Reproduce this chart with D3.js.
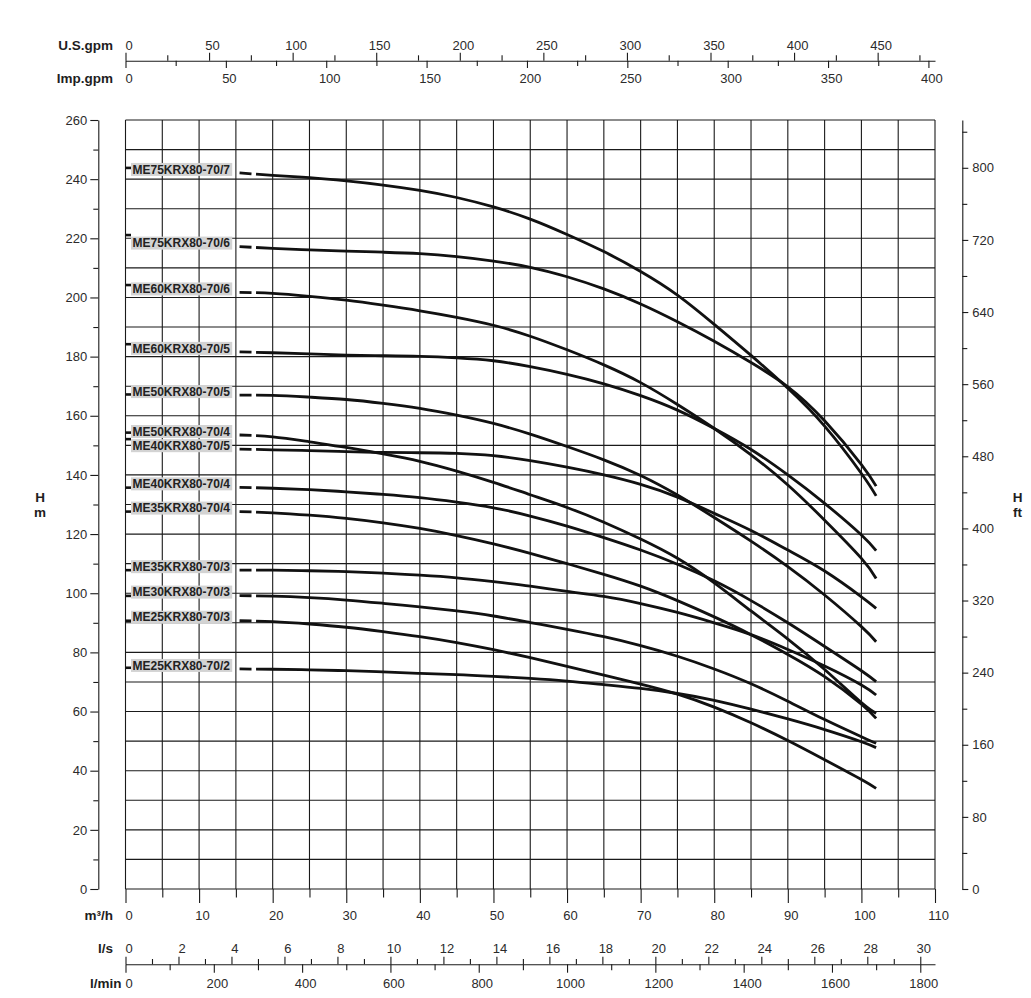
<!DOCTYPE html>
<html>
<head>
<meta charset="utf-8">
<script src="https://cdn.jsdelivr.net/npm/d3@7"></script>
<style>
  body { margin: 0; background: #fff; }
  svg { display: block; }
</style>
</head>
<body>
<svg id="chart" width="1031" height="998"></svg>
<script>
// ---------------- DATA ----------------
const flowM3h = [15.5, 20, 25, 30, 35, 40, 45, 50, 55, 60, 65, 70, 75, 80, 85, 90, 95, 100, 102];

const models = [
  "ME75KRX80-70/7", "ME75KRX80-70/6", "ME60KRX80-70/6", "ME60KRX80-70/5",
  "ME50KRX80-70/5", "ME50KRX80-70/4", "ME40KRX80-70/5", "ME40KRX80-70/4",
  "ME35KRX80-70/4", "ME35KRX80-70/3", "ME30KRX80-70/3", "ME25KRX80-70/3",
  "ME25KRX80-70/2"
];

// head at zero flow (short mark on the left edge of the grid)
const shutoffHead = [243.8, 221.1, 204.2, 184.2, 167.2, 154.3, 152.1, 135.7, 127.6, 107.8, 99.1, 90.7, 74.8];

const headME75_7 = [242.1, 241.3, 240.5, 239.4, 238.0, 236.2, 233.8, 230.6, 226.5, 221.3, 215.5, 208.8, 200.8, 190.9, 180.4, 169.3, 156.5, 140.5, 132.9];
const headME75_6 = [217.2, 216.6, 216.1, 215.7, 215.3, 214.8, 213.8, 212.3, 210.2, 207.0, 202.9, 197.8, 191.8, 185.2, 178.0, 169.8, 158.3, 143.5, 136.2];
const headME60_6 = [201.7, 201.4, 200.4, 199.1, 197.4, 195.5, 193.3, 190.6, 186.9, 182.3, 177.2, 171.2, 163.8, 155.7, 146.8, 136.6, 124.7, 111.8, 105.0];
const headME60_5 = [181.6, 181.3, 180.9, 180.5, 180.3, 180.1, 179.6, 178.6, 176.6, 174.0, 170.8, 166.8, 161.9, 155.7, 148.6, 140.0, 130.4, 119.7, 114.4];
const headME50_5 = [167.0, 166.9, 166.3, 165.5, 164.2, 162.5, 160.2, 157.4, 153.8, 149.6, 145.1, 139.8, 133.2, 125.6, 117.6, 109.0, 99.4, 88.7, 83.6];
const headME50_4 = [153.5, 152.9, 151.2, 149.3, 147.1, 144.6, 141.3, 137.5, 133.3, 129.0, 124.0, 118.3, 111.8, 103.5, 94.0, 84.5, 74.2, 63.0, 59.4];
const headME40_5 = [148.7, 148.5, 148.2, 147.9, 147.6, 147.5, 147.3, 146.5, 144.8, 142.6, 140.0, 136.8, 132.5, 127.0, 121.2, 114.6, 107.5, 98.8, 94.9];
const headME40_4 = [135.8, 135.5, 135.0, 134.3, 133.4, 132.3, 130.8, 128.9, 126.1, 122.7, 118.8, 114.6, 109.8, 104.2, 97.5, 90.0, 82.0, 73.8, 70.1];
const headME35_4 = [127.6, 127.2, 126.4, 125.3, 123.8, 121.9, 119.5, 116.7, 113.5, 110.0, 106.4, 102.4, 97.5, 92.0, 86.0, 79.3, 71.8, 62.5, 57.7];
const headME35_3 = [107.8, 107.8, 107.6, 107.3, 106.8, 106.1, 105.2, 103.9, 102.4, 100.6, 98.9, 96.5, 93.5, 90.0, 86.0, 81.0, 75.4, 69.0, 65.6];
const headME30_3 = [99.2, 99.0, 98.5, 97.7, 96.6, 95.4, 94.0, 92.3, 90.1, 87.8, 85.3, 82.3, 78.7, 74.4, 69.4, 63.5, 57.3, 51.5, 49.3];
const headME25_3 = [90.7, 90.4, 89.6, 88.5, 87.0, 85.3, 83.3, 80.9, 78.2, 75.3, 72.3, 69.3, 65.9, 61.5, 56.2, 50.2, 43.7, 37.0, 34.0];
const headME25_2 = [74.4, 74.3, 74.1, 73.8, 73.4, 72.9, 72.5, 71.9, 71.2, 70.3, 69.1, 67.8, 66.1, 63.8, 60.8, 57.5, 53.9, 49.8, 47.8];

const headSeries = [headME75_7, headME75_6, headME60_6, headME60_5, headME50_5, headME50_4,
  headME40_5, headME40_4, headME35_4, headME35_3, headME30_3, headME25_3, headME25_2];

// axis tick values
const m3hMajor = [0, 10, 20, 30, 40, 50, 60, 70, 80, 90, 100, 110];
const m3hMinor = [5, 15, 25, 35, 45, 55, 65, 75, 85, 95, 105];
const headMajor = [0, 20, 40, 60, 80, 100, 120, 140, 160, 180, 200, 220, 240, 260];
const headMinor = [10, 30, 50, 70, 90, 110, 130, 150, 170, 190, 210, 230, 250];
const ftMajor = [0, 80, 160, 240, 320, 400, 480, 560, 640, 720, 800];
const ftMinor = [40, 120, 200, 280, 360, 440, 520, 600, 680, 760, 840];
const usgpmMajor = [0, 50, 100, 150, 200, 250, 300, 350, 400, 450];
const usgpmMinor = [25, 75, 125, 175, 225, 275, 325, 375, 425, 475];
const impgpmMajor = [0, 50, 100, 150, 200, 250, 300, 350, 400];
const impgpmMinor = [25, 75, 125, 175, 225, 275, 325, 375];
const lsMajor = [0, 2, 4, 6, 8, 10, 12, 14, 16, 18, 20, 22, 24, 26, 28, 30];
const lsMinor = [1, 3, 5, 7, 9, 11, 13, 15, 17, 19, 21, 23, 25, 27, 29];
const lminMajor = [0, 200, 400, 600, 800, 1000, 1200, 1400, 1600, 1800];
const lminMinor = [100, 300, 500, 700, 900, 1100, 1300, 1500, 1700];

// ---------------- DRAW ----------------
const FONT = '"Liberation Sans", Arial, Helvetica, sans-serif';
const INK = "#1a1a1a";
const fmt = d3.format("d");
const svg = d3.select("#chart");

const qMax = 110, hMax = 260;
const x = d3.scaleLinear().domain([0, qMax]).range([125.5, 935]);
const y = d3.scaleLinear().domain([0, hMax]).range([889, 120]);
const yFt = d3.scaleLinear().domain([0, hMax / 0.3048]).range([889, 120]);
const usgpm = d3.scaleLinear().domain([0, qMax * 4.402868]).range(x.range());
const impgpm = d3.scaleLinear().domain([0, qMax * 3.666154]).range(x.range());
const ls = d3.scaleLinear().domain([0, qMax / 3.6]).range(x.range());
const lmin = d3.scaleLinear().domain([0, qMax / 0.06]).range(x.range());

function style(g, size) {
  g.attr("font-family", FONT).attr("font-size", size || 13);
  g.selectAll("line").attr("stroke", INK).attr("stroke-width", 1.1);
  g.selectAll(".domain").attr("stroke", INK).attr("stroke-width", 1.1);
  g.selectAll("text").attr("fill", "#2b2b2b");
  return g;
}

// grid
const grid = svg.append("g").attr("stroke", INK).attr("stroke-width", 1.1);
grid.selectAll("line.v").data(d3.range(0, qMax + 1, 5)).enter().append("line")
  .attr("x1", d => x(d)).attr("x2", d => x(d)).attr("y1", y(0)).attr("y2", y(hMax));
grid.selectAll("line.h").data(d3.range(0, hMax + 1, 10)).enter().append("line")
  .attr("x1", x(0)).attr("x2", x(qMax)).attr("y1", d => y(d)).attr("y2", d => y(d));

// bottom m3/h ticks (grid extensions)
const gB = svg.append("g").attr("transform", `translate(0,${y(0)})`);
gB.call(d3.axisBottom(x).tickValues(m3hMajor).tickSize(14).tickSizeOuter(0).tickFormat(fmt));
gB.call(g => g.select(".domain").remove());
gB.selectAll("text").attr("y", 31).attr("dy", 0).attr("x", 3);
style(gB);
const gBm = svg.append("g").attr("transform", `translate(0,${y(0)})`);
gBm.call(d3.axisBottom(x).tickValues(m3hMinor).tickSize(8.5).tickFormat(""));
gBm.call(g => g.select(".domain").remove());
style(gBm);

// top U.S.gpm / Imp.gpm
const topY = 60.7;
const gUS = svg.append("g").attr("transform", `translate(0,${topY})`);
gUS.call(d3.axisTop(usgpm).tickValues(usgpmMajor).tickSize(8).tickSizeOuter(0).tickPadding(3).tickFormat(fmt));
gUS.selectAll("text").attr("x", 3);
style(gUS);
const gUSm = svg.append("g").attr("transform", `translate(0,${topY})`);
gUSm.call(d3.axisTop(usgpm).tickValues(usgpmMinor).tickSize(5.4).tickFormat(""));
gUSm.call(g => g.select(".domain").remove());
style(gUSm);
const gImp = svg.append("g").attr("transform", `translate(0,${topY})`);
gImp.call(d3.axisBottom(impgpm).tickValues(impgpmMajor).tickSize(7.3).tickSizeOuter(0).tickFormat(fmt));
gImp.call(g => g.select(".domain").remove());
gImp.selectAll("text").attr("y", 22).attr("dy", 0).attr("x", 3);
style(gImp);
const gImpm = svg.append("g").attr("transform", `translate(0,${topY})`);
gImpm.call(d3.axisBottom(impgpm).tickValues(impgpmMinor).tickSize(5.3).tickFormat(""));
gImpm.call(g => g.select(".domain").remove());
style(gImpm);

// bottom l/s and l/min
const botY = 964.3;
const gLs = svg.append("g").attr("transform", `translate(0,${botY})`);
gLs.call(d3.axisTop(ls).tickValues(lsMajor).tickSize(7.6).tickSizeOuter(0).tickPadding(3.4).tickFormat(fmt));
gLs.selectAll("text").attr("x", 3);
style(gLs);
const gLsm = svg.append("g").attr("transform", `translate(0,${botY})`);
gLsm.call(d3.axisTop(ls).tickValues(lsMinor).tickSize(5.3).tickFormat(""));
gLsm.call(g => g.select(".domain").remove());
style(gLsm);
const gLm = svg.append("g").attr("transform", `translate(0,${botY})`);
gLm.call(d3.axisBottom(lmin).tickValues(lminMajor).tickSize(8.4).tickSizeOuter(0).tickFormat(fmt));
gLm.call(g => g.select(".domain").remove());
gLm.selectAll("text").attr("y", 24).attr("dy", 0).attr("x", 3);
style(gLm);
const gLmm = svg.append("g").attr("transform", `translate(0,${botY})`);
gLmm.call(d3.axisBottom(lmin).tickValues(lminMinor).tickSize(6).tickFormat(""));
gLmm.call(g => g.select(".domain").remove());
style(gLmm);

// left axis (m)
const gL = svg.append("g").attr("transform", "translate(98.3,0)");
gL.call(d3.axisLeft(y).tickValues(headMajor).tickSize(8).tickSizeOuter(0).tickPadding(3).tickFormat(fmt));
style(gL);
const gLmn = svg.append("g").attr("transform", "translate(98.3,0)");
gLmn.call(d3.axisLeft(y).tickValues(headMinor).tickSize(5).tickFormat(""));
gLmn.call(g => g.select(".domain").remove());
style(gLmn);

// right axis (ft)
const gR = svg.append("g").attr("transform", "translate(962.3,0)");
gR.call(d3.axisRight(yFt).tickValues(ftMajor).tickSize(6).tickSizeOuter(0).tickPadding(4).tickFormat(fmt));
style(gR);
const gRm = svg.append("g").attr("transform", "translate(962.3,0)");
gRm.call(d3.axisRight(yFt).tickValues(ftMinor).tickSize(5).tickFormat(""));
gRm.call(g => g.select(".domain").remove());
style(gRm);

// axis names
const names = svg.append("g").attr("font-family", FONT).attr("font-size", 13.5)
  .attr("font-weight", "bold").attr("fill", "#1e1e1e");
names.append("text").attr("x", 113).attr("y", 49.5).attr("text-anchor", "end").text("U.S.gpm");
names.append("text").attr("x", 113).attr("y", 82.5).attr("text-anchor", "end").text("Imp.gpm");
names.append("text").attr("x", 113).attr("y", 920).attr("text-anchor", "end").text("m³/h");
names.append("text").attr("x", 113).attr("y", 953).attr("text-anchor", "end").text("l/s");
names.append("text").attr("x", 121.5).attr("y", 988).attr("text-anchor", "end").text("l/min");
names.append("text").attr("x", 40).attr("y", 502).attr("text-anchor", "middle").text("H");
names.append("text").attr("x", 40).attr("y", 517).attr("text-anchor", "middle").text("m");
names.append("text").attr("x", 1017.5).attr("y", 502).attr("text-anchor", "middle").text("H");
names.append("text").attr("x", 1017.5).attr("y", 517).attr("text-anchor", "middle").text("ft");

// curves
const line = d3.line().x(d => x(d[0])).y(d => y(d[1])).curve(d3.curveNatural);
const curves = svg.append("g");
headSeries.forEach((hs, i) => {
  const pts = flowM3h.map((q, k) => [q, hs[k]]);
  curves.append("path").attr("d", line(pts))
    .attr("fill", "none").attr("stroke", "#111").attr("stroke-width", 2.8)
    .attr("stroke-dasharray", "12 4.5 3000");
  // shut-off mark
  curves.append("line")
    .attr("x1", x(0)).attr("x2", x(0) + 5.5)
    .attr("y1", y(shutoffHead[i])).attr("y2", y(shutoffHead[i]))
    .attr("stroke", "#111").attr("stroke-width", 2.6);
  // label
  const lg = curves.append("g");
  const ty = y(hs[0]) - 3.5;
  const t = lg.append("text").attr("x", 132.5).attr("y", ty).attr("dy", "0.35em")
    .attr("font-family", FONT).attr("font-size", 12).attr("font-weight", "bold")
    .attr("fill", "#222").text(models[i]);
  const bb = t.node().getBBox();
  lg.insert("rect", "text").attr("x", 131).attr("y", ty - 6.5)
    .attr("width", bb.width + 3.5).attr("height", 13).attr("fill", "#d3d3d3");
});
</script>
</body>
</html>
